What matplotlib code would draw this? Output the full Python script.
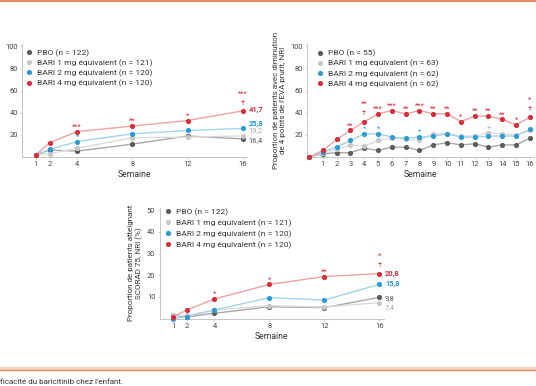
import matplotlib
matplotlib.use('Agg')
import matplotlib.pyplot as plt
from matplotlib.lines import Line2D

plt.rcParams['font.family'] = ['Roboto', 'DejaVu Sans']

# series names per panel
names_a = ['PBO (n = 122)', 'BARI 1 mg équivalent (n = 121)',
           'BARI 2 mg équivalent (n = 120)', 'BARI 4 mg équivalent (n = 120)']
names_b = ['PBO (n = 55)', 'BARI 1 mg équivalent (n = 63)',
           'BARI 2 mg équivalent (n = 62)', 'BARI 4 mg équivalent (n = 62)']
names_c = names_a

# panel A (top left)
weeks_a = [1, 2, 4, 8, 12, 16]
pbo_a = [2, 6.3, 5.4, 11.7, 19, 16.4]
bari1_a = [2, 3, 8, 17.5, 18, 19.2]
bari2_a = [2, 7, 14, 21, 24, 25.8]
bari4_a = [2, 13, 23, 28, 33, 41.7]
sig4_a = ['', '', '***', '**', '*', '***']
sig2_a = ['', '', '*', '', '', '']

# panel B (top right, pruritus)
weeks_b = list(range(0, 17))
pbo_b = [0, 3, 4, 4, 8, 6, 9, 9, 6, 11, 13, 11, 12, 9, 11, 11, 17]
bari1_b = [0, 4, 7, 11, 10, 15, 17, 16, 15, 21, 21, 19, 19, 22, 21, 20, 24]
bari2_b = [0, 5, 9, 15, 21, 21, 18, 17, 18, 19, 21, 18, 18, 19, 19, 19, 25]
bari4_b = [0, 6, 16, 24, 32, 39, 42, 39, 42, 39, 39, 32, 37, 37, 34, 29, 36]
sig4_b = ['', '', '', '**', '**', '***', '***', '**', '***', '**', '**',
          '*', '**', '**', '**', '*', '*']
sig2_b = ['', '', '', '', '*', '*', '', '', '*', '', '', '', '', '', '', '', '']
sig1_b = ['', '', '', '', '', '', '', '', '', '', '', '', '', '+', '', '', '']

# panel C (bottom, SCORAD 75)
weeks_c = [1, 2, 4, 8, 12, 16]
pbo_c = [1.5, 0.8, 2.5, 5.5, 5.1, 9.8]
bari1_c = [1.5, 1.5, 4, 6, 5.4, 7.4]
bari2_c = [0, 1, 4, 9.7, 8.6, 15.8]
bari4_c = [1, 4, 9.1, 15.8, 19.4, 20.8]
sig4_c = ['', '', '*', '*', '**', '*']

end_labels_a = ['16,4', '19,2', '25,8', '41,7']
end_labels_c = ['9,8', '7,4', '15,8', '20,8']

marker_cols = ['#5c5c5c', '#c8c8c8', '#2b9bd3', '#d62f3a']
line_cols = ['#a8a8a8', '#dcdcdc', '#a3d2ec', '#eba3a6']
label_cols = ['#555555', '#a8a8a8', '#2b9bd3', '#d62f3a']


def style(ax, xlim, ylim, xticks, yticks):
    ax.set_xlim(*xlim)
    ax.set_ylim(*ylim)
    ax.set_xticks(xticks)
    ax.set_yticks(yticks)
    for s in ['top', 'right']:
        ax.spines[s].set_visible(False)
    for s in ['left', 'bottom']:
        ax.spines[s].set_color('#bbbbbb')
        ax.spines[s].set_linewidth(0.6)
    ax.tick_params(length=1.5, width=0.5, color='#bbbbbb', labelsize=5.4,
                   labelcolor='#444444', pad=1.5)
    ax.set_xlabel('Semaine', fontsize=6.2, color='#333333', labelpad=1.5)


def draw(ax, weeks, series):
    for vals, mc, lc in zip(series, marker_cols, line_cols):
        ax.plot(weeks, vals, color=lc, lw=1.0, zorder=2, clip_on=False)
        ax.plot(weeks, vals, 'o', color=mc, ms=2.7, zorder=3, clip_on=False)


def stars(ax, weeks, vals, sig, color, dagger=()):
    for w, v, s in zip(weeks, vals, sig):
        if not s:
            continue
        dy = 12.5 if w in dagger else 3.5
        ax.annotate(s, (w, v), xytext=(0, dy), textcoords='offset points',
                    ha='center', va='center', fontsize=5.5, color=color)
        if w in dagger:
            ax.annotate('†', (w, v), xytext=(0, 6), textcoords='offset points',
                        ha='center', va='center', fontsize=5.5, color=color)


def legend(ax, names, anchor, spacing):
    handles = [Line2D([], [], marker='o', ls='none', color=c, ms=2.7) for c in marker_cols]
    ax.legend(handles, names, loc='upper left', bbox_to_anchor=anchor, frameon=False,
              fontsize=6, labelcolor='#333333', handlelength=0.7, handletextpad=0.6,
              labelspacing=spacing, borderaxespad=0, borderpad=0)


def end_labels(ax, week, series, texts, nudges):
    for vals, t, c, dy in zip(series, texts, label_cols, nudges):
        bold = c in ('#2b9bd3', '#d62f3a')
        ax.annotate(t, (week, vals[-1]), xytext=(4, dy), textcoords='offset points',
                    ha='left', va='center', fontsize=5.4, color=c,
                    fontweight='bold' if bold else 'normal')


fig = plt.figure(figsize=(5.36, 3.86), dpi=100)

# top left
ax1 = fig.add_axes([0.041, 0.593, 0.42, 0.293])
series_a = [pbo_a, bari1_a, bari2_a, bari4_a]
draw(ax1, weeks_a, series_a)
style(ax1, (0, 16.3), (0, 102), weeks_a, [20, 40, 60, 80, 100])
stars(ax1, weeks_a, bari4_a, sig4_a, marker_cols[3], dagger=(16,))
stars(ax1, weeks_a, bari2_a, sig2_a, marker_cols[2])
end_labels(ax1, 16, series_a, end_labels_a, [-1, 3.5, 3.5, 1])
legend(ax1, names_a, (0.018, 0.955), 0.3)

# top right
ax2 = fig.add_axes([0.5728, 0.593, 0.4235, 0.293])
series_b = [pbo_b, bari1_b, bari2_b, bari4_b]
draw(ax2, weeks_b, series_b)
style(ax2, (-0.15, 16.3), (0, 102), list(range(1, 17)), [20, 40, 60, 80, 100])
stars(ax2, weeks_b, bari4_b, sig4_b, marker_cols[3], dagger=(4, 16))
stars(ax2, weeks_b, bari2_b, sig2_b, marker_cols[2])
stars(ax2, weeks_b, bari1_b, sig1_b, '#b0b0b0')
ax2.set_ylabel("Proportion de patients avec diminution\nde 4 points de l'EVA prurit, NRI",
               fontsize=5.8, color='#333333', labelpad=3, linespacing=1.25)
legend(ax2, names_b, (0.044, 0.95), 0.3)

# bottom
ax3 = fig.add_axes([0.2976, 0.1744, 0.418, 0.2868])
series_c = [pbo_c, bari1_c, bari2_c, bari4_c]
draw(ax3, weeks_c, series_c)
style(ax3, (0, 16.3), (0, 51), weeks_c, [10, 20, 30, 40, 50])
stars(ax3, weeks_c, bari4_c, sig4_c, marker_cols[3], dagger=(16,))
end_labels(ax3, 16, series_c, end_labels_c, [-1, -3.5, 0.5, 0])
ax3.set_ylabel('Proportion de patients atteignant\nSCORAD 75, NRI (%)',
               fontsize=5.8, color='#333333', labelpad=3, linespacing=1.25)
legend(ax3, names_c, (0.025, 1.0), 0.4)

# page rules and caption
fig.add_artist(Line2D([0, 1], [1 - 1 / 386, 1 - 1 / 386], transform=fig.transFigure,
                      color='#e48a5e', lw=1.5))
fig.add_artist(Line2D([0, 1], [1 - 368 / 386, 1 - 368 / 386], transform=fig.transFigure,
                      color='#f5d2c0', lw=2.5))
fig.add_artist(Line2D([0, 1], [1 - 369.5 / 386, 1 - 369.5 / 386], transform=fig.transFigure,
                      color='#e48a5e', lw=1.0))
fig.text(0.0, 1 - 382 / 386, "ficacité du baricitinib chez l'enfant.", fontsize=5.8,
         color='#333333', ha='left', va='center')

fig.savefig('out.png', dpi=100)
